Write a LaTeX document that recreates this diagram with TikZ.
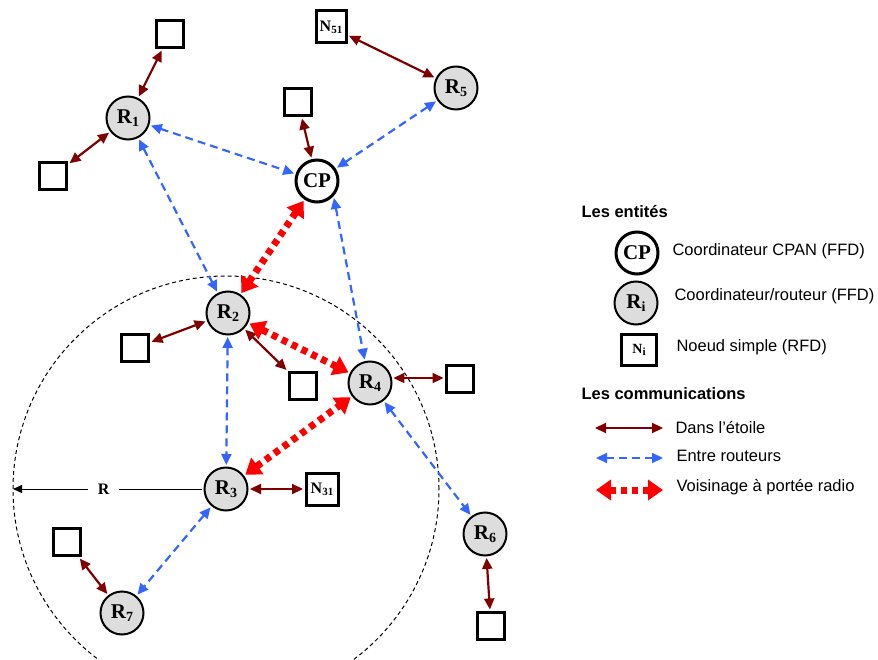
\documentclass[tikz,border=0pt]{standalone}
\usepackage{fontspec}
\setmainfont{Liberation Serif}
\newfontfamily\legendfont{Liberation Sans}
\usetikzlibrary{arrows.meta}
\definecolor{starred}{RGB}{128,0,0}
\definecolor{routeblue}{RGB}{51,102,255}
\definecolor{nodegray}{RGB}{221,221,221}
\newcommand{\Rnode}[1]{R\raisebox{-2.5pt}{\fontsize{14}{14}\selectfont #1}}
\newcommand{\Nnode}[1]{N\raisebox{-2pt}{\fontsize{11}{11}\selectfont #1}}
\tikzset{
  router/.style={circle, draw=black, line width=2pt, fill=nodegray, minimum size=43pt,
    inner sep=0pt, outer sep=2.5pt, font=\bfseries\fontsize{21}{21}\selectfont},
  coordo/.style={circle, draw=black, line width=3pt, fill=white, minimum size=42pt,
    inner sep=0pt, outer sep=3pt, font=\bfseries\fontsize{21}{21}\selectfont},
  simple/.style={rectangle, draw=black, line width=3pt, fill=white, minimum size=27pt,
    inner sep=0pt, outer sep=3pt, font=\bfseries\fontsize{16}{16}\selectfont},
  star/.style={draw=starred, line width=2.2pt,
    {Triangle[length=11pt,width=10pt]}-{Triangle[length=11pt,width=10pt]}},
  inter/.style={draw=routeblue, line width=2.2pt, dash pattern=on 8pt off 5pt,
    {Triangle[length=11pt,width=10pt]}-{Triangle[length=11pt,width=10pt]}},
  radio/.style={draw=red, line width=7pt, dash pattern=on 6pt off 5pt,
    {Triangle[length=15pt,width=20pt]}-{Triangle[length=15pt,width=20pt]}},
  legtext/.style={anchor=west, font=\legendfont\fontsize{16.5}{16.5}\selectfont},
  legtitle/.style={anchor=west, font=\legendfont\bfseries\fontsize{16.5}{16.5}\selectfont}
}

\begin{document}
\begin{tikzpicture}[x=1pt,y=1pt]
  \path[use as bounding box, clip] (0,0) rectangle (878,-660);

  % portee radio de R3
  \draw[dash pattern=on 4pt off 3pt, line width=1pt] (226,-489) circle (213);

  % routeurs et coordinateur
  \node[coordo] (cp) at (317,-181) {CP};
  \node[router] (r1) at (128,-118) {\Rnode{1}};
  \node[router] (r2) at (228,-313) {\Rnode{2}};
  \node[router] (r3) at (226,-489) {\Rnode{3}};
  \node[router] (r4) at (370,-383) {\Rnode{4}};
  \node[router] (r5) at (456,-88) {\Rnode{5}};
  \node[router] (r6) at (485,-534) {\Rnode{6}};
  \node[router] (r7) at (122,-613) {\Rnode{7}};

  % noeuds simples
  \node[simple] (n11) at (170,-34) {};
  \node[simple] (n12) at (53,-176) {};
  \node[simple] (ncp) at (298,-102) {};
  \node[simple, minimum width=30pt, minimum height=32pt] (n51) at (331,-27) {\Nnode{51}};
  \node[simple] (n21) at (135,-348) {};
  \node[simple] (n22) at (303,-386) {};
  \node[simple] (n41) at (460,-379) {};
  \node[simple, minimum size=32pt] (n31) at (322,-489) {\Nnode{31}};
  \node[simple] (n71) at (67,-542) {};
  \node[simple] (n61) at (491,-626) {};

  % dans l'etoile
  \draw[star] (r1) -- (n11);
  \draw[star] (r1) -- (n12);
  \draw[star] (cp) -- (ncp);
  \draw[star] (r5) -- (n51);
  \draw[star] (r2) -- (n21);
  \draw[star] (r2) -- (n22);
  \draw[star] (r4.12) -- (r4.12 -| n41.west);
  \draw[star] (r3) -- (n31);
  \draw[star] (r7) -- (n71);
  \draw[star] (r6) -- (n61);

  % entre routeurs
  \draw[inter] (r1) -- (cp);
  \draw[inter] (r5) -- (cp);
  \draw[inter] (r1) -- (r2);
  \draw[inter] (cp.-45) -- (r4.103);
  \draw[inter] (r2) -- (r3);
  \draw[inter] (r3) -- (r7);
  \draw[inter] (r4) -- (r6);

  % voisinage radio
  \draw[radio] (cp) -- (r2);
  \draw[radio] (r2) -- (r4);
  \draw[radio] (r3) -- (r4);

  % rayon
  \coordinate (redge) at (13,-489);
  \draw[line width=1pt, -{Triangle[length=9pt,width=8pt]}] (r3) -- (redge)
    node[pos=0.52, fill=white, inner xsep=10pt, font=\bfseries\fontsize{16}{16}\selectfont] (rlab) {R};

  % legende
  \node[legtitle] (ent) at (578,-212) {Les entités};
  \node[coordo] (lcp) at (637,-253) {CP};
  \node[legtext] (tcp) at (669,-251) {Coordinateur CPAN (FFD)};
  \node[router] (lri) at (636,-303) {\Rnode{i}};
  \node[legtext] (tri) at (671,-296) {Coordinateur/routeur (FFD)};
  \node[simple, minimum width=35pt, minimum height=31pt,
    font=\bfseries\fontsize{14}{14}\selectfont] (lni) at (639,-350) {\Nnode{i}};
  \node[legtext] (tni) at (673,-347) {Noeud simple (RFD)};

  \node[legtitle] (com) at (578,-394) {Les communications};
  \coordinate (sa) at (595,-428);
  \coordinate (sb) at (663,-428);
  \draw[star] (sa) -- (sb);
  \node[legtext] (tsa) at (672,-428) {Dans l’étoile};
  \coordinate (ia) at (596,-458);
  \coordinate (ib) at (663,-458);
  \draw[inter] (ia) -- (ib);
  \node[legtext] (tia) at (673,-456) {Entre routeurs};
  \coordinate (va) at (596,-490);
  \coordinate (vb) at (663,-490);
  \draw[radio] (va) -- (vb);
  \node[legtext] (tva) at (673,-487) {Voisinage à portée radio};
\end{tikzpicture}
\end{document}
